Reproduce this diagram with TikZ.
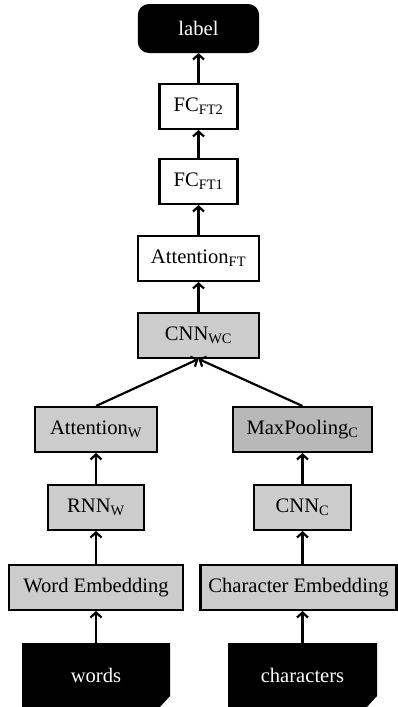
\documentclass[tikz,border=0pt]{standalone}
\usepackage{fontspec}
\setmainfont{Liberation Serif}
\usetikzlibrary{positioning, arrows.meta}
\tikzset{
  block/.style={draw, line width=2.4pt, minimum height=44.6pt, inner sep=0pt, align=center, font=\fontsize{20.6pt}{24pt}\selectfont},
  plain/.style={block, fill=white},
  shaded/.style={block, fill=black!20},
  darker/.style={block, fill=black!28},
  terminal/.style={block, fill=black, text=white, rounded corners=10pt, minimum height=46.6pt},
  source/.style={rectangle, minimum height=65pt, inner sep=0pt, outer sep=0pt, text=white, font=\fontsize{20.6pt}{24pt}\selectfont,
    path picture={\fill (path picture bounding box.north west) -- (path picture bounding box.north east)
      -- ([yshift=12pt]path picture bounding box.south east) -- ([xshift=-11pt]path picture bounding box.south east)
      -- (path picture bounding box.south west) -- cycle;}},
  arr/.style={-{Straight Barb[length=5pt, width=11pt]}, line width=2.2pt}
}
\begin{document}
\begin{tikzpicture}[x=1pt, y=1pt]
\useasboundingbox (0,0) rectangle (398,-707);
% top column
\node[terminal, minimum width=119pt] (label) at (198.5,-28.5) {label};
\node[plain, minimum width=78pt, below=30pt of label] (fc2) {FC\textsubscript{FT2}};
\node[plain, minimum width=78pt, below=28pt of fc2] (fc1) {FC\textsubscript{FT1}};
\node[plain, minimum width=121pt, below=30pt of fc1] (attft) {Attention\textsubscript{FT}};
\node[shaded, minimum width=121pt, below=30pt of attft] (cnnwc) {CNN\textsubscript{WC}};
% word branch
\node[shaded, minimum width=122pt, below=47pt of cnnwc, xshift=-102.5pt] (attw) {Attention\textsubscript{W}};
\node[shaded, minimum width=96pt, below=31pt of attw] (rnnw) {RNN\textsubscript{W}};
\node[shaded, minimum width=174pt, below=33pt of rnnw] (wemb) {Word Embedding};
\node[source, minimum width=148pt, below=32pt of wemb] (words) {words};
% character branch
\node[darker, minimum width=139pt, below=47pt of cnnwc, xshift=104pt] (maxc) {MaxPooling\textsubscript{C}};
\node[shaded, minimum width=97pt, below=31pt of maxc] (cnnc) {CNN\textsubscript{C}};
\node[shaded, minimum width=196pt, below=33pt of cnnc, xshift=-4pt] (cemb) {Character Embedding};
\node[source, minimum width=149pt, below=32pt of cemb, xshift=4pt] (chars) {characters};
\draw[arr] (words) -- (wemb);
\draw[arr] (wemb) -- (rnnw);
\draw[arr] (rnnw) -- (attw);
\draw[arr] (chars.north) -- (chars.north |- cemb.south);
\draw[arr] (cemb.north -| cnnc.south) -- (cnnc);
\draw[arr] (cnnc) -- (maxc);
\draw[arr] (attw.north) -- (cnnwc.south);
\draw[arr] (maxc.north) -- (cnnwc.south);
\draw[arr] (cnnwc) -- (attft);
\draw[arr] (attft) -- (fc1);
\draw[arr] (fc1) -- (fc2);
\draw[arr] (fc2) -- (label);
\end{tikzpicture}
\end{document}
